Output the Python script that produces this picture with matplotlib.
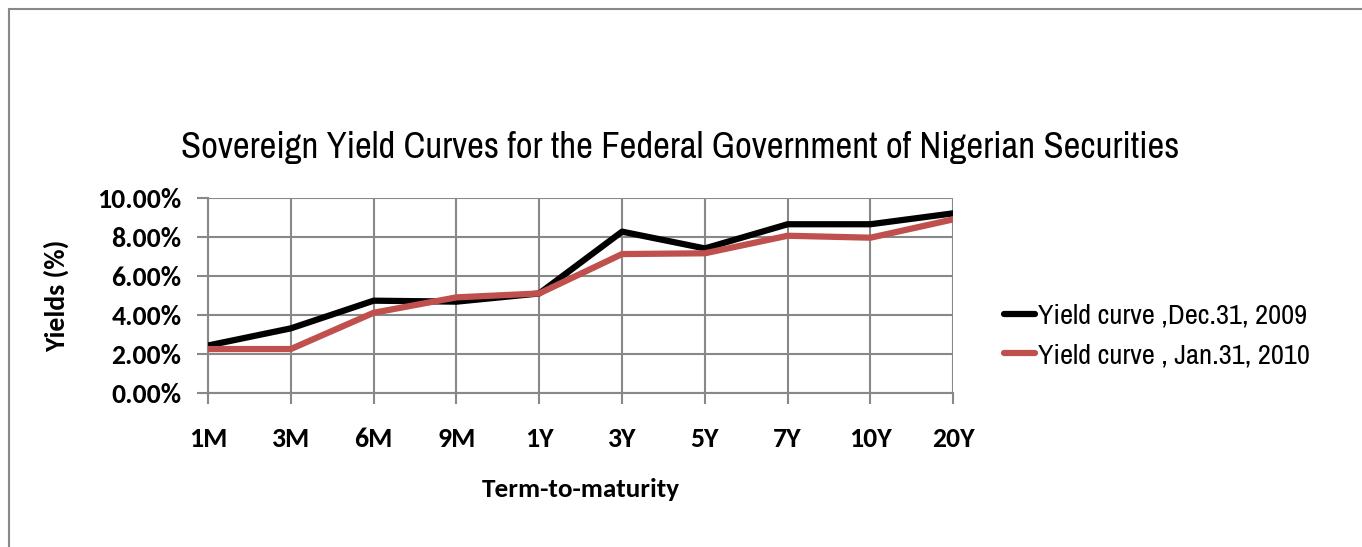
import matplotlib
matplotlib.use("Agg")
import matplotlib.pyplot as plt
from matplotlib.ticker import FuncFormatter
from matplotlib.patches import Rectangle
from matplotlib import font_manager

terms = ["1M", "3M", "6M", "9M", "1Y", "3Y", "5Y", "7Y", "10Y", "20Y"]
dec_2009 = [2.45, 3.33, 4.75, 4.70, 5.12, 8.29, 7.43, 8.67, 8.67, 9.23]
jan_2010 = [2.27, 2.27, 4.13, 4.92, 5.12, 7.14, 7.18, 8.08, 7.98, 8.92]
series_labels = ["Yield curve ,Dec.31, 2009", "Yield curve , Jan.31, 2010"]
title = "Sovereign Yield Curves for the Federal Government of Nigerian Securities"

names = {f.name for f in font_manager.fontManager.ttflist}
def pick(*cands):
    for c in cands:
        if c in names:
            return c
    return "DejaVu Sans"
narrow = pick("Liberation Sans Narrow", "Archivo Narrow", "Liberation Sans")
calibri = pick("Carlito", "Liberation Sans")

fig = plt.figure(figsize=(13.62, 5.47), dpi=100)
fig.patches.append(Rectangle((9/1362, -0.1), 1.2, (547-9)/547 + 0.1, transform=fig.transFigure,
                             fill=False, edgecolor="#888888", linewidth=1.5))

ax = fig.add_axes([208/1362, (547-393.3)/547, (953.3-208)/1362, (393.3-198.3)/547])
x = list(range(len(terms)))
ax.plot(x, dec_2009, color="black", linewidth=4.5, solid_capstyle="round", label=series_labels[0], zorder=3)
ax.plot(x, jan_2010, color="#c0504d", linewidth=4.5, solid_capstyle="round", label=series_labels[1], zorder=4)

ax.set_xlim(0, len(terms) - 1)
ax.set_ylim(0, 10)
ax.set_yticks([0, 2, 4, 6, 8, 10])
ax.yaxis.set_major_formatter(FuncFormatter(lambda v, p: f"{v:.2f}%"))
ax.set_xticks(x)
ax.set_xticklabels(terms)
ax.grid(True, color="#888888", linewidth=1.5)
ax.set_axisbelow(True)
for s in ["top", "right"]:
    ax.spines[s].set_visible(False)
for s in ["left", "bottom"]:
    ax.spines[s].set_color("#888888")
    ax.spines[s].set_linewidth(1.5)
ax.tick_params(axis="both", color="#888888", width=1.5, length=8)
ax.tick_params(axis="y", pad=11)
ax.tick_params(axis="x", pad=16)
for lab in ax.get_xticklabels() + ax.get_yticklabels():
    lab.set_fontfamily(calibri)
    lab.set_fontweight("bold")
    lab.set_fontsize(20)

ax.set_xlabel("Term-to-maturity", fontfamily=calibri, fontweight="bold", fontsize=19.5, labelpad=20)
ax.set_ylabel("Yields (%)", fontfamily=calibri, fontweight="bold", fontsize=20, labelpad=20)

fig.text(680/1362, 1 - 147/547, title, ha="center", va="center", fontfamily=narrow, fontsize=26.4)

leg = fig.legend(loc="center left", bbox_to_anchor=(978/1362, 1 - 336/547), frameon=False,
                 prop={"family": narrow, "size": 20.5}, handlelength=1.1, handletextpad=0.1,
                 labelspacing=0.5)

fig.savefig("out.png", dpi=100)
